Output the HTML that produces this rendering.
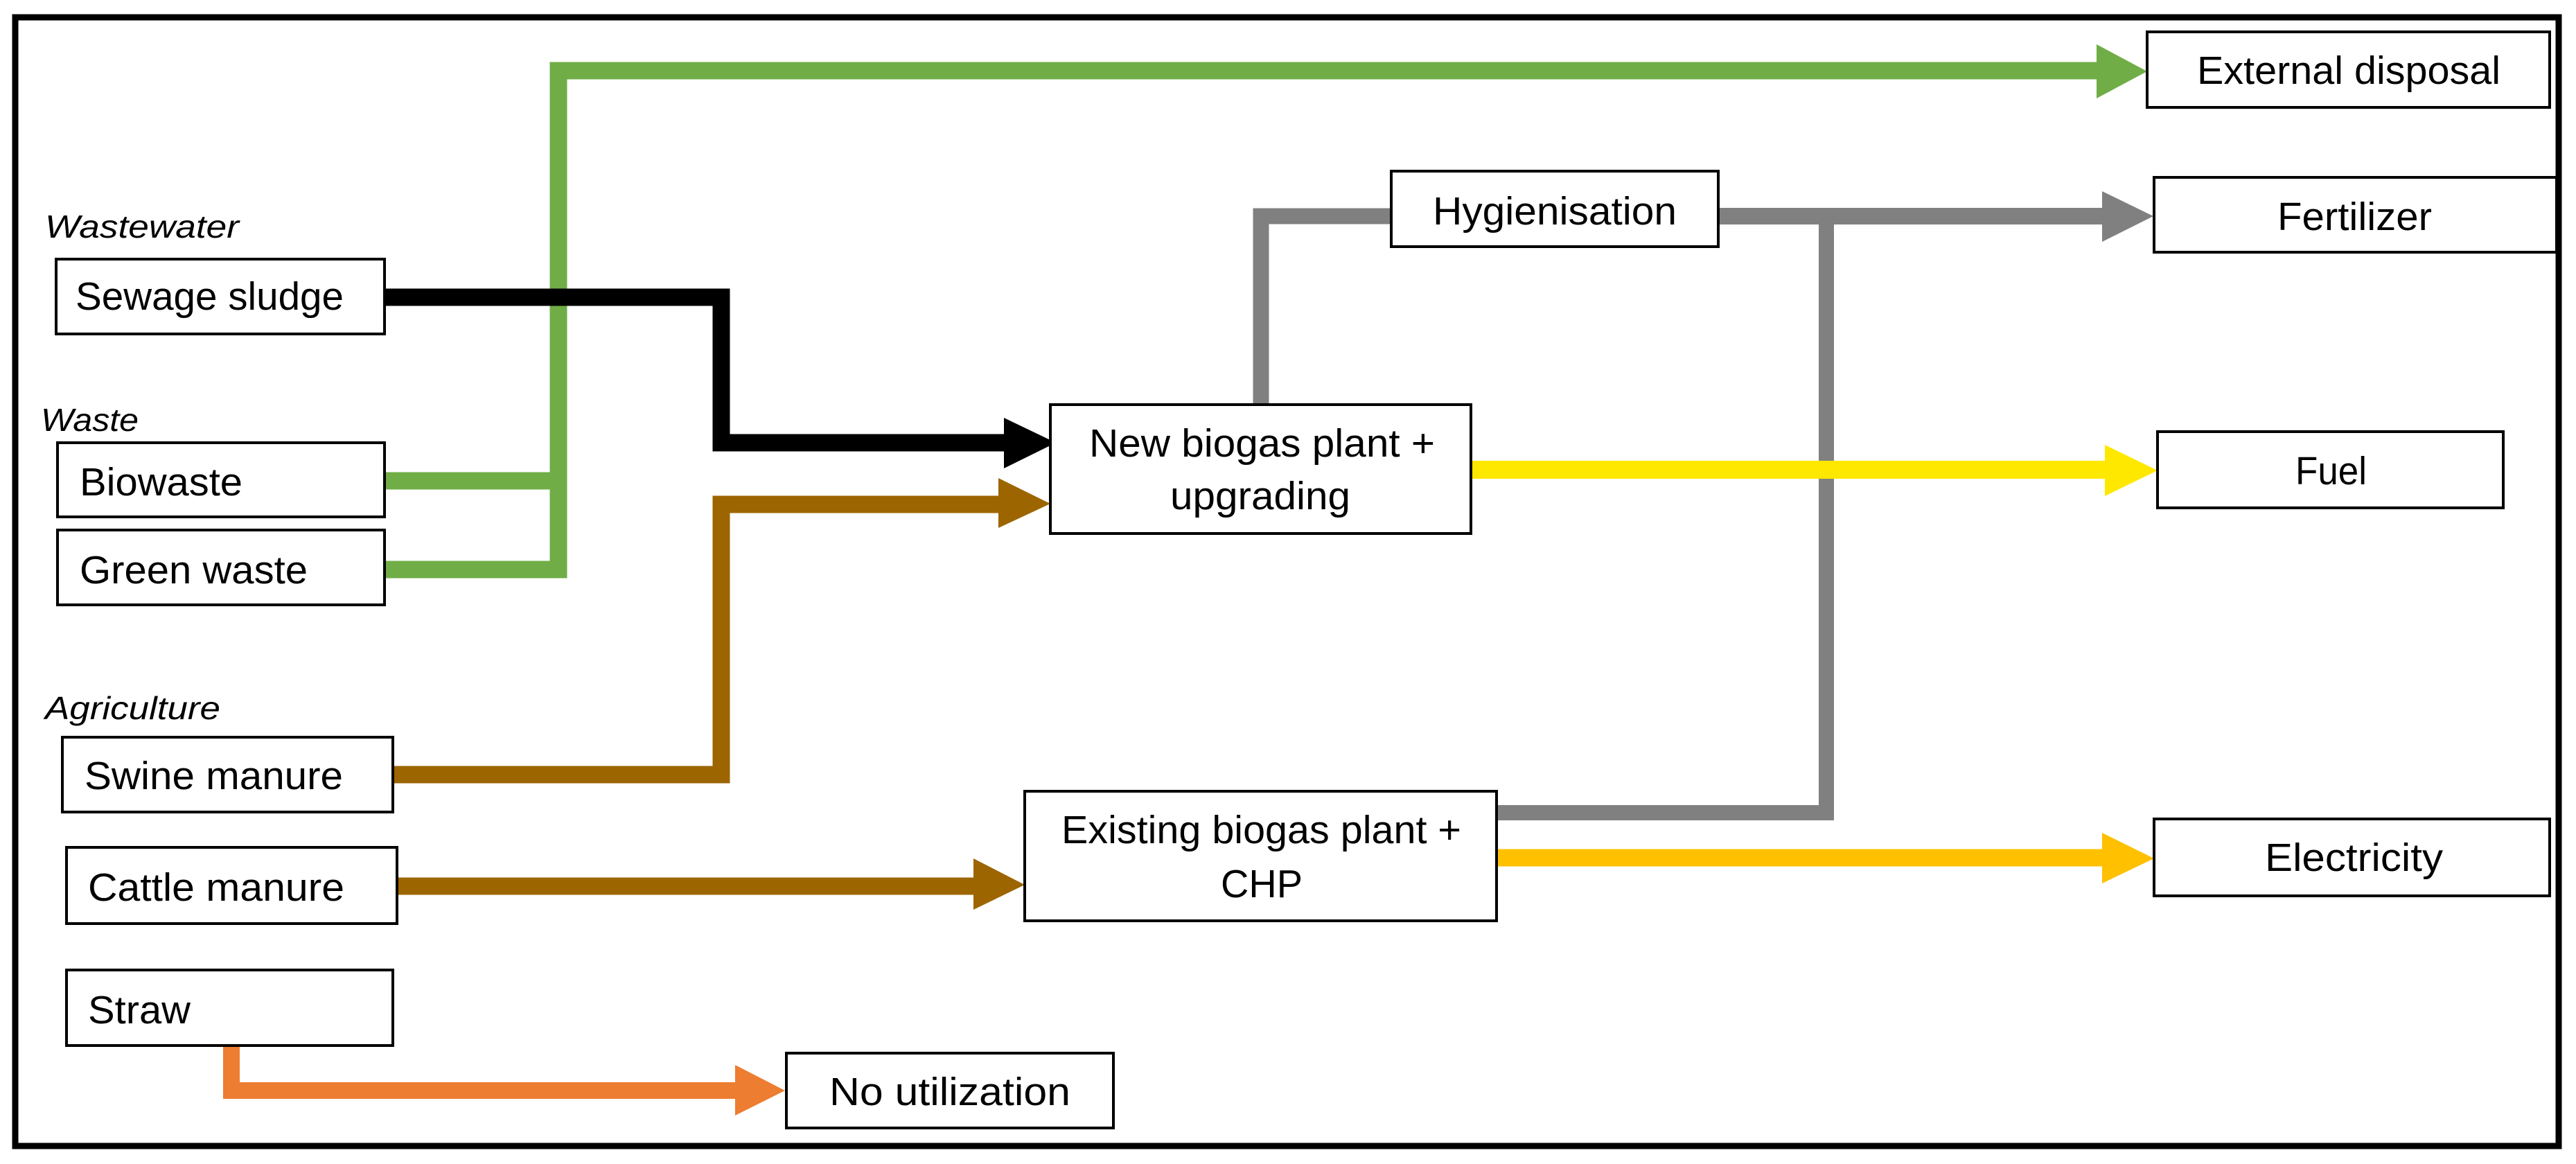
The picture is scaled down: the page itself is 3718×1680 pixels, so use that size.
<!DOCTYPE html>
<html><head><meta charset="utf-8"><style>
html,body{margin:0;padding:0;background:#fff;}
svg{display:block;}
text{font-family:"Liberation Sans",sans-serif;font-size:57px;fill:#000;}
.i{font-style:italic;font-size:46px;}
</style></head><body>
<svg width="3718" height="1680" viewBox="0 0 3718 1680" xmlns="http://www.w3.org/2000/svg">
<rect x="0" y="0" width="3718" height="1680" fill="#fff"/>
<rect x="22" y="25" width="3671" height="1629" fill="none" stroke="#000" stroke-width="9"/>

<g fill="none" stroke-linejoin="miter">
  <polyline points="555,694 806,694 806,102 3030,102" stroke="#70AD47" stroke-width="25"/>
  <polyline points="555,822 806,822 806,690" stroke="#70AD47" stroke-width="25"/>
  <polyline points="555,429 1041,429 1041,639 1452,639" stroke="#000" stroke-width="25"/>
  <polyline points="567,1118 1041,1118 1041,728 1444,728" stroke="#9C6500" stroke-width="25"/>
  <polyline points="573,1279 1408,1279" stroke="#9C6500" stroke-width="25"/>
  <polyline points="1820,584 1820,312 2008,312" stroke="#808080" stroke-width="23"/>
  <polyline points="2480,312 3036,312" stroke="#808080" stroke-width="24"/>
  <polyline points="2160,1173 2636,1173 2636,312" stroke="#808080" stroke-width="22"/>
  <polyline points="2123,678 3040,678" stroke="#FFE800" stroke-width="26"/>
  <polyline points="2160,1238 3036,1238" stroke="#FFC000" stroke-width="25"/>
  <polyline points="334,1509 334,1574 1064,1574" stroke="#ED7D31" stroke-width="24"/>
</g>
<polygon points="3026,64 3099,103 3026,142" fill="#70AD47"/>
<polygon points="1449,603 1524,639 1449,676" fill="#000"/>
<polygon points="1441,690 1516,727 1441,762" fill="#9C6500"/>
<polygon points="1405,1239 1479,1277 1405,1313" fill="#9C6500"/>
<polygon points="3034,276 3108,312 3034,349" fill="#808080"/>
<polygon points="3038,642 3114,679 3038,716" fill="#FFE800"/>
<polygon points="3034,1202 3109,1239 3034,1275" fill="#FFC000"/>
<polygon points="1061,1537 1133,1574 1061,1610" fill="#ED7D31"/>

<g fill="#fff" stroke="#000" stroke-width="4">
  <rect x="81" y="374" width="474" height="108"/>
  <rect x="83" y="639" width="472" height="107"/>
  <rect x="83" y="765" width="472" height="108"/>
  <rect x="90" y="1064" width="477" height="108"/>
  <rect x="96" y="1223" width="477" height="110"/>
  <rect x="96" y="1400" width="471" height="109"/>
  <rect x="1135" y="1520" width="472" height="108"/>
  <rect x="1516" y="584" width="607" height="186"/>
  <rect x="1479" y="1142" width="681" height="187"/>
  <rect x="2008" y="247" width="472" height="109"/>
  <rect x="3099" y="46" width="581" height="109"/>
  <rect x="3109" y="256" width="581" height="108"/>
  <rect x="3114" y="623" width="499" height="110"/>
  <rect x="3109" y="1182" width="571" height="111"/>
</g>

<text class="i" x="65" y="343" textLength="280" lengthAdjust="spacingAndGlyphs">Wastewater</text>
<text class="i" x="59" y="622" textLength="141" lengthAdjust="spacingAndGlyphs">Waste</text>
<text class="i" x="65" y="1038" textLength="253" lengthAdjust="spacingAndGlyphs">Agriculture</text>

<text x="109" y="447" textLength="387" lengthAdjust="spacingAndGlyphs">Sewage sludge</text>
<text x="115" y="715" textLength="235" lengthAdjust="spacingAndGlyphs">Biowaste</text>
<text x="115" y="842" textLength="329" lengthAdjust="spacingAndGlyphs">Green waste</text>
<text x="122" y="1139" textLength="373" lengthAdjust="spacingAndGlyphs">Swine manure</text>
<text x="127" y="1300" textLength="370" lengthAdjust="spacingAndGlyphs">Cattle manure</text>
<text x="127" y="1477" textLength="148" lengthAdjust="spacingAndGlyphs">Straw</text>
<text x="1197" y="1595" textLength="348" lengthAdjust="spacingAndGlyphs">No utilization</text>
<text x="1572" y="659" textLength="499" lengthAdjust="spacingAndGlyphs">New biogas plant +</text>
<text x="1689" y="735" textLength="260" lengthAdjust="spacingAndGlyphs">upgrading</text>
<text x="1532" y="1217" textLength="577" lengthAdjust="spacingAndGlyphs">Existing biogas plant +</text>
<text x="1762" y="1295" textLength="118" lengthAdjust="spacingAndGlyphs">CHP</text>
<text x="2068" y="324" textLength="352" lengthAdjust="spacingAndGlyphs">Hygienisation</text>
<text x="3171" y="121" textLength="438" lengthAdjust="spacingAndGlyphs">External disposal</text>
<text x="3287" y="332" textLength="223" lengthAdjust="spacingAndGlyphs">Fertilizer</text>
<text x="3313" y="699" textLength="103" lengthAdjust="spacingAndGlyphs">Fuel</text>
<text x="3269" y="1257" textLength="257" lengthAdjust="spacingAndGlyphs">Electricity</text>
</svg>
</body></html>
